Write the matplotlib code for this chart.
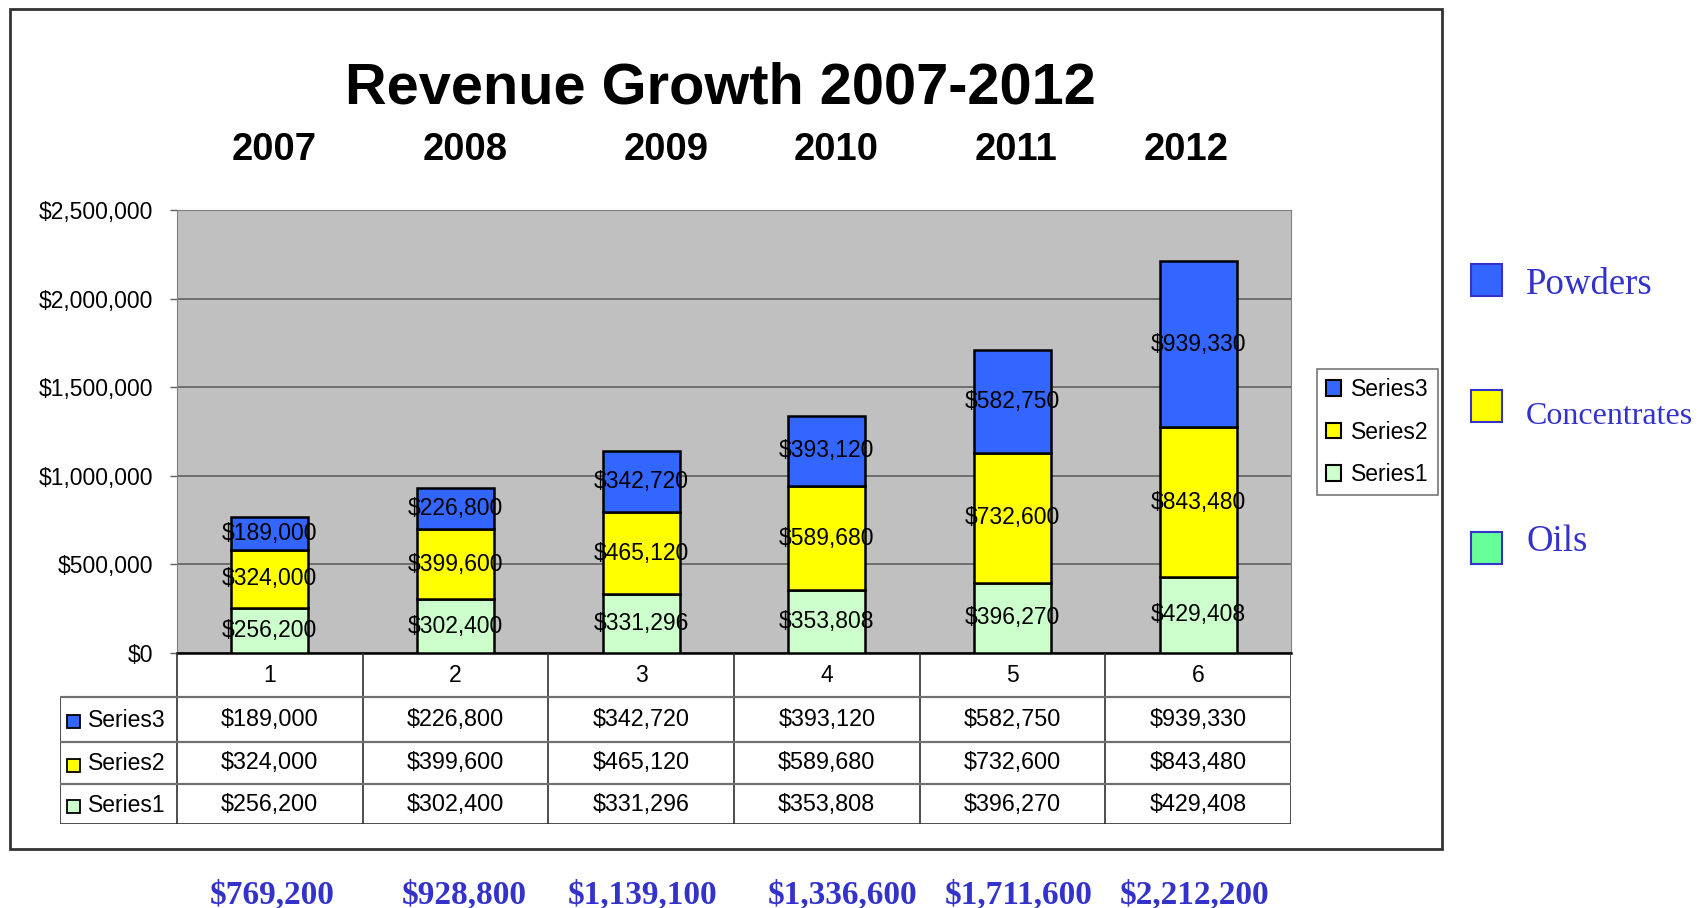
import matplotlib
import numpy as np

matplotlib.use("Agg")
import matplotlib.pyplot as plt
from matplotlib.patches import Patch, Rectangle
from matplotlib.ticker import FuncFormatter

SANS = "Liberation Sans"
SERIF = "Liberation Serif"

BLUE = "#3366ff"
YELLOW = "#ffff00"
MINT = "#ccffcc"
OILS = "#66ff99"
INK_BLUE = "#3333cc"
PLOT_BG = "#c0c0c0"

YEARS = ["2007", "2008", "2009", "2010", "2011", "2012"]
CATEGORIES = ["1", "2", "3", "4", "5", "6"]
SERIES1 = [256200, 302400, 331296, 353808, 396270, 429408]
SERIES2 = [324000, 399600, 465120, 589680, 732600, 843480]
SERIES3 = [189000, 226800, 342720, 393120, 582750, 939330]
PRODUCTS = ["Powders", "Concentrates", "Oils"]

# pixel layout helpers (figure is 1703 x 908 at 100 dpi)
W, H = 1703, 908
YEAR_X = [274, 465, 666, 836, 1016, 1186]
TOTAL_X = [272, 464, 643, 843, 1019, 1195]
ROW_EDGES = [653, 697, 742, 784, 824]
LABEL_PT = 16.5


def fx(px):
    return px / W


def fy(py):
    return 1 - py / H


def money(v, _=None):
    return f"${v:,.0f}"


fig = plt.figure(figsize=(W / 100, H / 100), dpi=100, facecolor="white")

# outer frame
fig.patches.append(Rectangle((fx(10), fy(849)), fx(1442) - fx(10), fy(9) - fy(849),
                             transform=fig.transFigure, fill=False, edgecolor="#333333", lw=2))

ax = fig.add_axes([fx(177), fy(653), fx(1291) - fx(177), fy(210) - fy(653)])
ax.set_facecolor(PLOT_BG)

series = [np.array(SERIES1), np.array(SERIES2), np.array(SERIES3)]
colours = [MINT, YELLOW, BLUE]
x = np.arange(len(CATEGORIES)) + 0.5
bottom = np.zeros(len(CATEGORIES))
for vals, colour in zip(series, colours):
    ax.bar(x, vals, width=0.415, bottom=bottom, color=colour, edgecolor="black", lw=1.8, zorder=3)
    for xi, b, v in zip(x, bottom, vals):
        ax.text(xi, b + v / 2, money(v), ha="center", va="center", fontsize=LABEL_PT,
                family=SANS, zorder=4)
    bottom = bottom + vals

ax.set_xlim(0, 6)
ax.set_ylim(0, 2500000)
ax.set_yticks(np.arange(0, 2500001, 500000))
ax.yaxis.set_major_formatter(FuncFormatter(money))
ax.set_xticks([])
ax.grid(axis="y", color="#606060", lw=1.2, zorder=1)
ax.tick_params(axis="y", direction="out", length=5, width=1, color="#606060", pad=12,
               labelsize=LABEL_PT)
for lab in ax.get_yticklabels():
    lab.set_family(SANS)
for side in ("left", "top", "right"):
    ax.spines[side].set_color("#808080")
ax.spines["bottom"].set_color("black")
ax.spines["bottom"].set_linewidth(1.8)

# data table under the plot, drawn in pixel rows
left_px = 60
tax = fig.add_axes([fx(left_px), fy(ROW_EDGES[-1]), fx(1291) - fx(left_px),
                    fy(ROW_EDGES[0]) - fy(ROW_EDGES[-1])])
unit = (1291 - 177) / 6.0
x0 = -(177 - left_px) / unit
tax.set_xlim(x0, 6)
tax.set_ylim(ROW_EDGES[-1], ROW_EDGES[0])
tax.axis("off")

line_kw = dict(color="#303030", lw=1.2)
for c in range(7):
    tax.plot([c, c], [ROW_EDGES[0], ROW_EDGES[-1]], **line_kw)
tax.plot([x0, x0], [ROW_EDGES[1], ROW_EDGES[-1]], **line_kw)
for r in ROW_EDGES[1:-1]:
    tax.plot([x0, 6], [r, r], color="#707070", lw=1.6)
tax.plot([x0, 6], [ROW_EDGES[-1]] * 2, **line_kw)

centres = [(a + b) / 2 for a, b in zip(ROW_EDGES[:-1], ROW_EDGES[1:])]
for c, cat in enumerate(CATEGORIES):
    tax.text(c + 0.5, centres[0], cat, ha="center", va="center", fontsize=LABEL_PT, family=SANS)

rows = [("Series3", SERIES3, BLUE), ("Series2", SERIES2, YELLOW), ("Series1", SERIES1, MINT)]
sq = 13
for yc, (name, vals, colour) in zip(centres[1:], rows):
    tax.add_patch(Rectangle((x0 + 7 / unit, yc - sq / 2 + 2), sq / unit, sq,
                            facecolor=colour, edgecolor="black", lw=1.3))
    tax.text(x0 + 28 / unit, yc + 1, name, ha="left", va="center", fontsize=LABEL_PT, family=SANS)
    for c, v in enumerate(vals):
        tax.text(c + 0.5, yc, money(v), ha="center", va="center", fontsize=16.8, family=SANS)

# series legend
handles = [Patch(facecolor=BLUE, edgecolor="black", lw=1.5),
           Patch(facecolor=YELLOW, edgecolor="black", lw=1.5),
           Patch(facecolor=MINT, edgecolor="black", lw=1.5)]
leg = fig.legend(handles, ["Series3", "Series2", "Series1"], loc="upper left",
                 bbox_to_anchor=(fx(1317), fy(369)), borderaxespad=0, handlelength=0.65,
                 handleheight=0.65, handletextpad=0.45, labelspacing=0.85, borderpad=0.4,
                 fancybox=False, frameon=True, prop={"family": SANS, "size": LABEL_PT})
leg.get_frame().set_edgecolor("#555555")
leg.get_frame().set_linewidth(1.2)

# title and year headings
fig.text(fx(720), fy(88), "Revenue Growth 2007-2012", ha="center", va="center",
         fontsize=41.6, fontweight="bold", family=SANS)
for px, yr in zip(YEAR_X, YEARS):
    fig.text(fx(px), fy(150), yr, ha="center", va="center", fontsize=27.5,
             fontweight="bold", family=SANS)

# product key on the right
key_y = [280, 406, 548]
text_y = [285, 417, 542]
text_pt = [26.5, 23, 26.5]
key_colours = [BLUE, YELLOW, OILS]
for py, ty, pt, name, colour in zip(key_y, text_y, text_pt, PRODUCTS, key_colours):
    fig.patches.append(Rectangle((fx(1471), fy(py + 16)), fx(31), 32 / H,
                                 transform=fig.transFigure, facecolor=colour,
                                 edgecolor=INK_BLUE, lw=1.5))
    fig.text(fx(1526), fy(ty), name, ha="left", va="center", fontsize=pt,
             family=SERIF, color=INK_BLUE)

# yearly totals, rounded to hundreds
totals = np.round(np.array(SERIES1) + np.array(SERIES2) + np.array(SERIES3), -2)
for px, t in zip(TOTAL_X, totals):
    fig.text(fx(px), fy(895), money(t), ha="center", va="center", fontsize=24,
             fontweight="bold", family=SERIF, color=INK_BLUE)

fig.savefig("out.png", dpi=100)
plt.close(fig)
